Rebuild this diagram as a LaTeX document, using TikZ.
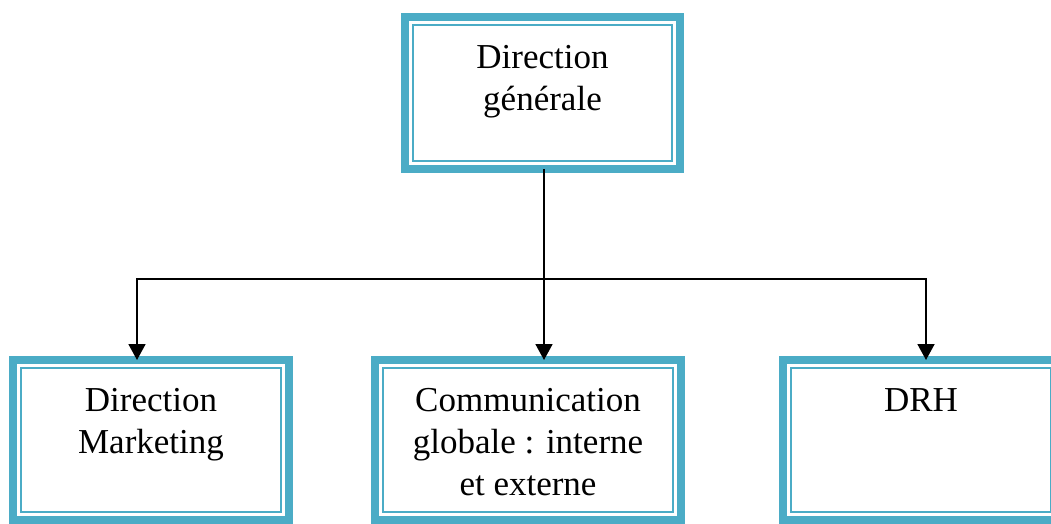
\documentclass[tikz,border=0pt]{standalone}
\usepackage{fontspec}
\setmainfont{Liberation Serif}
\usetikzlibrary{arrows.meta,positioning}
\definecolor{aqua}{HTML}{4BACC6}
\tikzset{
  unit/.style={draw=aqua,line width=8pt,outer sep=0pt,inner sep=0pt,minimum width=276pt,minimum height=160pt},
  frame/.style={draw=aqua,line width=2.5pt},
  caption/.style={anchor=north,align=center,inner sep=0pt,font=\fontsize{35}{42}\selectfont},
  link/.style={line width=1.8pt,-{Triangle[width=17pt,length=16pt]}}
}
\begin{document}
\begin{tikzpicture}[x=1pt,y=-1pt]
  \useasboundingbox (0,0) rectangle (1051,524);
  \node [unit,minimum width=275pt,minimum height=152pt] (dg) at (542.5,93) {};
  \node [unit] (dm) at (151,440) {};
  \node [unit,minimum width=306pt] (cg) at (528,440) {};
  \node [unit] (drh) at (921,440) {};
  \foreach\P in {dg,dm,cg,drh} \draw[frame]([shift={(8,8)}]\P.north west) rectangle ([shift={(-8,-8)}]\P.south east);
  \node [caption] (dgt) at ([shift={(0,28)}]dg.north) {Direction\\générale};
  \node [caption] (dmt) at ([shift={(0,28)}]dm.north) {Direction\\Marketing};
  \node [caption] (cgt) at ([shift={(0,28)}]cg.north) {Communication\\globale : interne\\et externe};
  \node [caption] (drht) at ([shift={(0,28)}]drh.north) {DRH};
  \coordinate (trunk) at ([shift={(1.5,0)}]dg.south);
  \coordinate (busL) at (137,279);
  \coordinate (busR) at (926,279);
  \draw[link] (trunk) -- (trunk |- cg.north);
  \draw[link] (busL -| trunk) -- (busR) -- (busR |- drh.north);
  \draw[link] (busR -| trunk) -- (busL) -- (busL |- dm.north);
\end{tikzpicture}
\end{document}
